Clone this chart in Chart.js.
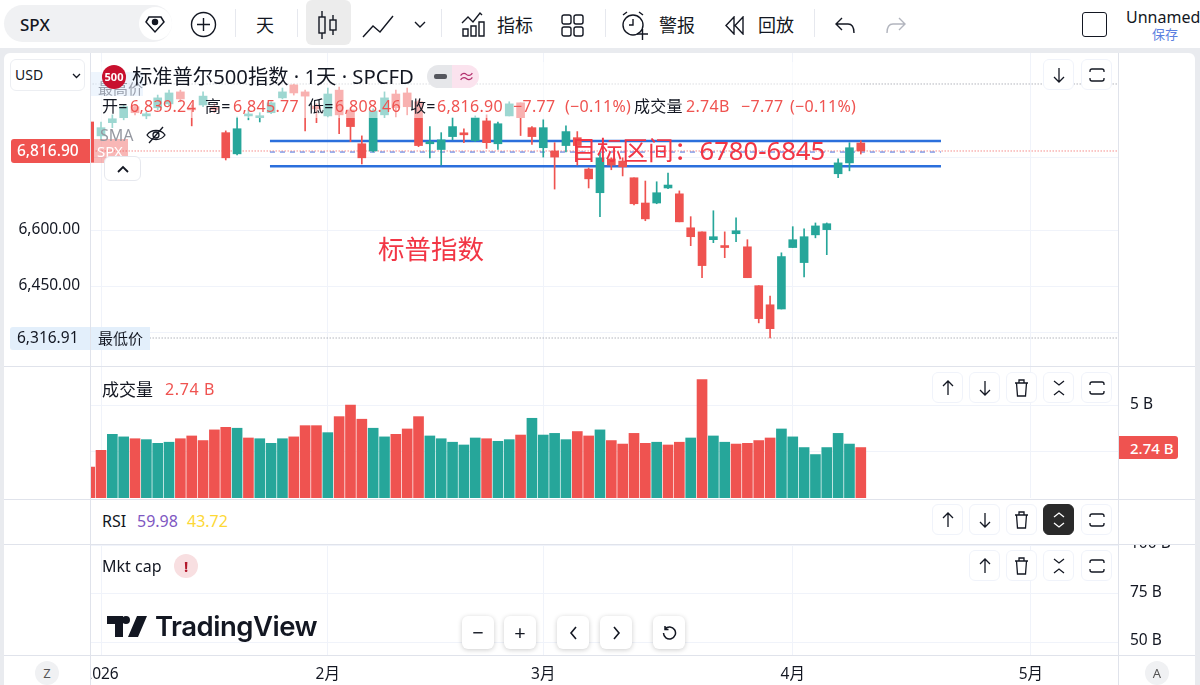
<!DOCTYPE html>
<html>
<head>
<meta charset="utf-8">
<title>SPX</title>
<script src="https://cdn.jsdelivr.net/npm/chart.js@4/dist/chart.umd.min.js"></script>
<style>
html, body { margin: 0; padding: 0; }
body { width: 1200px; height: 685px; position: relative; overflow: hidden; background: #e9ebef;
  font-family: "Noto Sans", "Noto Sans CJK SC", sans-serif; color: #131722; }
canvas { position: absolute; }
.box { position: absolute; }
.t { position: absolute; white-space: nowrap; line-height: 1; transform: translateY(-50%); }
.o { font-size: 16px; top: 106px; letter-spacing: .3px; }
.red { color: #ef5350; }
.sep { position: absolute; background: #e0e3eb; }
.tbsep { position: absolute; width: 1px; top: 9px; height: 28px; background: #e6e8ee; }
.btn { position: absolute; width: 31px; height: 31px; box-sizing: border-box; border: 1px solid #f0f3fa; border-radius: 6px;
  background: #fff; display: flex; align-items: center; justify-content: center; font-size: 18px; }
.nav { position: absolute; top: 616px; width: 32px; height: 33px; border-radius: 6px; background: #fff;
  box-shadow: 0 1px 5px rgba(0,0,0,.2); display: flex; align-items: center; justify-content: center; font-size: 20px; }
svg { display: block; }
</style>
</head>
<body>
<!-- page frame -->
<div class="box" style="left:0;top:0;width:1200px;height:48px;background:#fff"></div>
<div class="box" style="left:4px;top:53px;width:1191px;height:632px;background:#fff;border-radius:6px 6px 0 0"></div>

<canvas id="priceChart" width="1118" height="313" style="left:0;top:53px"></canvas>
<canvas id="volChart" width="1110" height="132" style="left:90px;top:366px"></canvas>
<canvas id="capChart" width="1110" height="140" style="left:90px;top:545px"></canvas>

<div class="sep" style="left:90px;top:53px;width:1px;height:632px"></div>
<div class="sep" style="left:1118px;top:53px;width:1px;height:632px"></div>
<div class="sep" style="left:4px;top:366px;width:1191px;height:1px"></div>
<div class="sep" style="left:4px;top:499px;width:1191px;height:45px;background:#fff"></div>
<div class="sep" style="left:4px;top:499px;width:1191px;height:1px"></div>
<div class="sep" style="left:4px;top:544px;width:1191px;height:1px"></div>
<div class="sep" style="left:4px;top:655px;width:1191px;height:1px"></div>
<div class="sep" style="left:90px;top:499px;width:1px;height:46px"></div>
<div class="sep" style="left:1118px;top:499px;width:1px;height:46px"></div>

<!-- toolbar -->
<div class="box" style="left:4px;top:5px;width:168px;height:37px;border-radius:19px;background:#f0f1f3"></div>
<div class="t" style="left:20px;top:24px;font-size:17px;font-weight:500">SPX</div>
<div class="box" style="left:139px;top:7px;width:33px;height:33px;border-radius:50%;background:#fff"></div>
<svg class="box" style="left:145px;top:14px" width="20" height="20" viewBox="0 0 20 20" fill="none" stroke="#131722" stroke-width="1.5"><path d="M4 3h12l3 5-9 10L1 8z"/><circle cx="10" cy="8" r="2.5" fill="#131722"/></svg>
<svg class="box" style="left:190px;top:11px" width="27" height="27" viewBox="0 0 27 27" fill="none" stroke="#131722" stroke-width="1.4"><circle cx="13.5" cy="13.5" r="12"/><path d="M13.5 7v13M7 13.5h13"/></svg>
<div class="tbsep" style="left:235px"></div>
<div class="t" style="left:256px;top:25px;font-size:18px">天</div>
<div class="tbsep" style="left:297px"></div>
<div class="box" style="left:306px;top:0;width:45px;height:45px;border-radius:6px;background:#ececec"></div>
<svg class="box" style="left:317px;top:10px" width="22" height="30" viewBox="0 0 22 30" fill="none" stroke="#131722" stroke-width="1.4"><path d="M5 1v6M5 23v6M16 5v5M16 20v5"/><rect x="2" y="7" width="6" height="16"/><rect x="13" y="10" width="6" height="10"/></svg>
<svg class="box" style="left:362px;top:14px" width="32" height="24" viewBox="0 0 32 24" fill="none" stroke="#131722" stroke-width="1.4"><path d="M1 23l10-11 7 6L31 2"/></svg>
<svg class="box" style="left:414px;top:21px" width="12" height="8" viewBox="0 0 12 8" fill="none" stroke="#131722" stroke-width="1.4"><path d="M1 1l5 5 5-5"/></svg>
<div class="tbsep" style="left:441px"></div>
<svg class="box" style="left:461px;top:11px" width="25" height="27" viewBox="0 0 25 27" fill="none" stroke="#131722" stroke-width="1.4"><path d="M1 12l6-6 5 5 7-9 2 2"/><path d="M2 25v-7h5v7zM10 25V15h5v10zM18 25V11h5v14z"/></svg>
<div class="t" style="left:497px;top:25px;font-size:18px">指标</div>
<svg class="box" style="left:561px;top:14px" width="23" height="23" viewBox="0 0 23 23" fill="none" stroke="#131722" stroke-width="1.4"><rect x="1" y="1" width="9" height="9" rx="2"/><rect x="13" y="1" width="9" height="9" rx="2"/><rect x="1" y="13" width="9" height="9" rx="2"/><rect x="13" y="13" width="9" height="9" rx="2"/></svg>
<div class="tbsep" style="left:605px"></div>
<svg class="box" style="left:620px;top:10px" width="30" height="30" viewBox="0 0 30 30" fill="none" stroke="#131722" stroke-width="1.4"><circle cx="13" cy="15" r="10"/><path d="M13 9v6h-4M3 5l4-3M23 5l-4-3M17 24h11M22.5 19v11"/></svg>
<div class="t" style="left:659px;top:25px;font-size:18px">警报</div>
<svg class="box" style="left:724px;top:16px" width="21" height="19" viewBox="0 0 21 19" fill="none" stroke="#131722" stroke-width="1.4"><path d="M10 1L2 9.5 10 18zM19 1l-8 8.500 8 8.500z"/></svg>
<div class="t" style="left:758px;top:25px;font-size:18px">回放</div>
<div class="tbsep" style="left:814px"></div>
<svg class="box" style="left:835px;top:17px" width="21" height="17" viewBox="0 0 21 17" fill="none" stroke="#131722" stroke-width="1.4"><path d="M7 1L1 7l6 6M1 7h12c4 0 6 3 6 9"/></svg>
<svg class="box" style="left:885px;top:17px" width="21" height="17" viewBox="0 0 21 17" fill="none" stroke="#b2b5be" stroke-width="1.4"><path d="M14 1l6 6-6 6M20 7H8c-4 0-6 3-6 9"/></svg>
<div class="box" style="left:1082px;top:12px;width:23px;height:23px;border:1.5px solid #131722;border-radius:3px"></div>
<div class="t" style="left:1126px;top:17px;font-size:16px">Unnamed</div>
<div class="t" style="left:1152px;top:34px;font-size:13px;color:#5b7fe0">保存</div>

<!-- faded strip behind the price pane legend -->
<div class="box" style="left:96px;top:62px;width:765px;height:56px;background:rgba(255,255,255,.55)"></div>
<div class="box" style="left:96px;top:118px;width:70px;height:30px;background:rgba(255,255,255,.55)"></div>

<!-- price axis tags -->
<div class="box" style="left:10px;top:59px;width:75px;height:32px;box-sizing:border-box;border:1px solid #eceef2;border-radius:6px;background:#fff"></div>
<div class="t" style="left:15px;top:75px;font-size:14px">USD</div>
<svg class="box" style="left:72px;top:73px" width="9" height="6" viewBox="0 0 9 6" fill="none" stroke="#131722" stroke-width="1.3"><path d="M1 1l3.500 3.500L8 1"/></svg>
<div class="box" style="left:91px;top:72px;width:52px;height:24px;background:rgba(227,239,251,.6)"></div>
<div class="t" style="left:98px;top:88px;font-size:15px;color:#9aa0ad">最高价</div>
<div class="box" style="left:11px;top:139px;width:79px;height:24px;background:#ef5350;border-radius:3px 0 0 3px"></div>
<div class="t" style="left:17px;top:151px;font-size:15.500px;color:#fff;font-weight:500">6,816.90</div>
<div class="box" style="left:91px;top:139px;width:37px;height:24px;background:rgba(239,83,80,.42)"></div>
<div class="t" style="left:97px;top:151px;font-size:15px;color:#fff">SPX</div>
<div class="btn" style="left:104px;top:156px;width:37px;height:25px;border-color:#e6e8ee"><svg width="12" height="8" viewBox="0 0 12 8" fill="none" stroke="#131722" stroke-width="1.800"><path d="M1 7l5-5 5 5"/></svg></div>
<div class="box" style="left:10px;top:327px;width:80px;height:23px;background:#e3effb;border-radius:3px 0 0 3px"></div>
<div class="t" style="left:17px;top:338px;font-size:15.500px">6,316.91</div>
<div class="box" style="left:91px;top:327px;width:59px;height:23px;background:#e3effb"></div>
<div class="t" style="left:98px;top:338px;font-size:15px">最低价</div>

<!-- price pane legend -->
<div class="box" style="left:102px;top:65px;width:24px;height:24px;border-radius:50%;background:#c8102e;color:#fff;font-size:11px;line-height:24px;text-align:center;font-weight:700">500</div>
<div class="t" style="left:132px;top:76px;font-size:20.300px">标准普尔500指数 · 1天 · SPCFD</div>
<div class="box" style="left:427px;top:65px;width:25px;height:23px;background:#e6e7ea;border-radius:12px 0 0 12px"></div>
<div class="box" style="left:452px;top:65px;width:27px;height:23px;background:#fbe3ee;border-radius:0 12px 12px 0"></div>
<div class="box" style="left:434px;top:74px;width:13px;height:5px;background:#55575e;border-radius:2px"></div>
<div class="t" style="left:458px;top:76px;font-size:17px;color:#b3306d">≈</div>
<div class="t o" style="left:102px">开=</div>
<div class="t o red" style="left:130px">6,839.24</div>
<div class="t o" style="left:205px">高=</div>
<div class="t o red" style="left:233px">6,845.77</div>
<div class="t o" style="left:308px">低=</div>
<div class="t o red" style="left:335px">6,808.46</div>
<div class="t o" style="left:410px">收=</div>
<div class="t o red" style="left:437px">6,816.90</div>
<div class="t o red" style="left:513px">−7.77</div>
<div class="t o red" style="left:565px">(−0.11%)</div>
<div class="t o" style="left:634px">成交量</div>
<div class="t o red" style="left:686px">2.74B</div>
<div class="t o red" style="left:741px">−7.77</div>
<div class="t o red" style="left:790px">(−0.11%)</div>
<div class="t" style="left:100px;top:135px;font-size:16px;color:#9598a1">SMA</div>
<svg class="box" style="left:146px;top:126px" width="20" height="18" viewBox="0 0 20 18" fill="none" stroke="#131722" stroke-width="1.300"><path d="M1 9c4-6 14-6 18 0-4 6-14 6-18 0z"/><circle cx="10" cy="9" r="3"/><path d="M3 17L17 1"/></svg>

<!-- drawn notes -->
<div class="t" style="left:571px;top:151px;font-size:25.700px;color:#f23645">目标区间：6780-6845</div>
<div class="t" style="left:378px;top:249px;font-size:26.500px;color:#f23645">标普指数</div>

<!-- lower panes -->
<div class="t" style="left:102px;top:389px;font-size:17px">成交量</div>
<div class="t red" style="left:165px;top:389px;font-size:16px;letter-spacing:.6px">2.74 B</div>
<div class="box" style="left:1119px;top:436px;width:59px;height:23px;background:#ef5350;border-radius:0 3px 3px 0"></div>
<div class="t" style="left:1130px;top:448px;font-size:15px;color:#fff;font-weight:500">2.74 B</div>
<div class="t" style="left:102px;top:521px;font-size:16px">RSI</div>
<div class="t" style="left:137px;top:521px;font-size:16px;color:#7e57c2">59.98</div>
<div class="t" style="left:187px;top:521px;font-size:16px;color:#fdd835">43.72</div>
<div class="t" style="left:102px;top:566px;font-size:16px">Mkt cap</div>
<div class="box" style="left:174px;top:554px;width:24px;height:24px;border-radius:50%;background:#f8dfe1;color:#b2182b;font-size:15px;font-weight:700;line-height:24px;text-align:center">!</div>

<!-- logo -->
<svg class="box" style="left:107px;top:616px" width="42" height="21" viewBox="0 0 42 21" fill="#131722"><path d="M0 0h16v21H8V8H0zM19 0a4 4 0 1 1 0 8 4 4 0 0 1 0-8zM30 0h10l-9 21H21z"/></svg>
<div class="t" style="left:155px;top:627px;font-size:27.500px;font-weight:600;font-family:Inter,sans-serif;letter-spacing:-.5px">TradingView</div>

<div class="nav" style="left:462px">−</div>
<div class="nav" style="left:504px">+</div>
<div class="nav" style="left:557px"><svg width="9" height="14" viewBox="0 0 9 14" fill="none" stroke="#131722" stroke-width="1.600"><path d="M7 1L2 7l5 6"/></svg></div>
<div class="nav" style="left:600px"><svg width="9" height="14" viewBox="0 0 9 14" fill="none" stroke="#131722" stroke-width="1.600"><path d="M2 1l5 6-5 6"/></svg></div>
<div class="nav" style="left:653px"><svg width="16" height="16" viewBox="0 0 16 16" fill="none" stroke="#131722" stroke-width="1.500"><path d="M4 4a6 6 0 1 1-1.500 4M4 1v3.500h3.500"/></svg></div>

<div class="box" style="left:35px;top:661px;width:24px;height:24px;border-radius:50%;background:#f0f1f3;color:#555;font-size:13px;line-height:24px;text-align:center">Z</div>
<div class="box" style="left:1145px;top:661px;width:24px;height:24px;border-radius:50%;background:#f0f1f3;color:#555;font-size:13px;line-height:24px;text-align:center">A</div>

<div id="buttons"></div>

<script>
// candles, day 0 is the one cut off by the axis
const opens = [6898,6859,6896,6910,6941,6915,6938,6949,6983,6938,6946,6941,6868,6809,6915,6910,6924,6966,7003,6983,6943,6915,6988,6932,6837,6817,6918,6977,6980,6955,6837,6821,6857,6865,6846,6901,6837,6915,6952,6882,6826,6817,6832,6854,6767,6702,6795,6789,6743,6674,6674,6715,6699,6607,6596,6575,6556,6591,6556,6453,6403,6392,6554,6514,6588,6602,6754,6784,6839.24];
const highs = [6898,6898,6918,6946,6946,6926,6974,6988,6988,6946,6983,6949,6873,6912,6932,6924,6955,6994,7005,6988,6949,6994,6997,6938,6859,6935,6983,6988,6994,6960,6885,6868,6910,6879,6915,6918,6898,6955,6952,6885,6904,6840,6887,6871,6770,6811,6798,6798,6743,6734,6732,6756,6707,6637,6596,6653,6596,6634,6575,6453,6426,6540,6610,6604,6620,6620,6795,6840,6845.77];
const lows = [6786,6846,6882,6904,6918,6907,6932,6943,6955,6887,6941,6924,6792,6806,6904,6898,6921,6963,6974,6873,6896,6912,6865,6843,6781,6814,6910,6912,6918,6829,6798,6778,6848,6840,6843,6824,6821,6915,6860,6835,6800,6712,6814,6778,6715,6637,6765,6748,6669,6626,6672,6713,6623,6559,6474,6567,6527,6570,6474,6356,6317,6392,6554,6476,6580,6535,6743,6762,6808.46];
const closes = [6786,6882,6907,6941,6924,6921,6966,6980,6963,6932,6971,6932,6798,6879,6918,6915,6952,6983,6980,6971,6935,6977,6918,6885,6798,6929,6966,6938,6941,6832,6840,6848,6885,6862,6910,6840,6893,6949,6910,6857,6882,6800,6871,6832,6740,6798,6778,6773,6672,6631,6702,6723,6623,6583,6506,6583,6554,6599,6474,6367,6341,6530,6575,6583,6612,6618,6784,6826,6816.90];

// volume in billions, volUp = teal bar
const volumes = [1.68,2.59,3.46,3.32,3.22,3.17,2.97,3.03,3.22,3.37,3.12,3.70,3.84,3.79,3.26,3.22,2.97,3.22,3.32,3.93,3.93,3.55,4.42,5.05,4.28,3.79,3.32,3.46,3.75,4.42,3.37,3.22,3.03,2.88,3.26,3.22,3.08,3.17,3.42,4.33,3.42,3.51,3.17,3.61,3.37,3.70,3.12,2.93,3.51,2.97,3.03,2.88,3.03,3.26,6.43,3.37,3.03,2.93,2.97,3.12,3.26,3.75,3.32,2.74,2.36,2.74,3.51,2.93,2.74];
const volUp = [0,0,1,1,0,1,1,1,0,0,0,0,0,1,0,1,1,1,0,0,0,1,0,0,0,1,1,0,0,0,1,1,1,1,1,0,1,1,0,1,1,1,1,0,0,1,0,0,0,0,1,0,0,1,0,1,1,0,0,0,0,1,1,1,1,1,1,1,0];

// axis ticks
const monthTicks = [1,21,40,62,83];
const monthLabels = ["2026","2月","3月","4月","5月"];
const priceTicks = [6800,6600,6450,6330];
const priceTickLabels = {6600:"6,600.00",6450:"6,450.00"};
const volTicks = [2.5,5];
const capTicks = [100,75,50];

// levels on the chart
const boxTop = 6845;
const boxBottom = 6775;
const boxMiddle = 6814;
const boxFrom = 15.9;
const boxTo = 75.07;
const lastPrice = 6816.90;
const highestPrice = 7005.5;
const lowestPrice = 6316.91;

const RED = "#ef5350";
const TEAL = "#26a69a";
const GRID = "#f0f3fa";
const FONT = { family: '"Noto Sans","Noto Sans CJK SC",sans-serif', size: 15.5 };

Chart.defaults.animation = false;
Chart.defaults.color = "#131722";

function xAxis(showLabels) {
    return {
        type: "linear",
        min: 0.03,
        max: 90.68,
        offset: false,
        border: { display: false },
        grid: { color: GRID, drawTicks: false, offset: false },
        afterBuildTicks: (s) => { s.ticks = monthTicks.map((v) => ({ value: v })); },
        ticks: {
            display: showLabels,
            autoSkip: false,
            maxRotation: 0,
            minRotation: 0,
            padding: 9,
            font: FONT,
            callback: (v) => monthLabels[monthTicks.indexOf(v)],
        },
        afterFit: (s) => {
            s.paddingLeft = 0;
            s.paddingRight = 0;
            s.height = showLabels ? 29 : 0;
        },
    };
}

function yAxis(position, width, values, label, padding, extra) {
    return Object.assign({
        position: position,
        border: { display: false },
        grid: { color: GRID, drawTicks: false },
        afterBuildTicks: (s) => { s.ticks = values.map((v) => ({ value: v })); },
        ticks: { autoSkip: false, padding: padding, font: FONT, callback: label, labelOffset: -1 },
        afterFit: (s) => {
            s.width = width;
            s.paddingTop = 0;
            s.paddingBottom = 0;
        },
    }, extra);
}

function level(y, from, to, color, width, dash) {
    return {
        type: "line",
        data: [{ x: from, y: y }, { x: to, y: y }],
        borderColor: color,
        borderWidth: width,
        borderDash: dash,
        pointRadius: 0,
        order: 3,
    };
}

const candleColors = opens.map((o, i) => (closes[i] >= o ? TEAL : RED));

new Chart(document.getElementById("priceChart"), {
    type: "bar",
    data: {
        datasets: [
            level(boxTop, boxFrom, boxTo, "#2b6fdc", 2.5, []),
            level(boxBottom, boxFrom, boxTo, "#2b6fdc", 2.5, []),
            level(boxMiddle, boxFrom, boxTo, "#4a6fdc", 1, [5, 5]),
            level(lastPrice, 0, 91, "#ef5350", 1, [1, 2]),
            level(highestPrice, 0, 91, "#8a8e99", 1, [1, 2]),
            level(lowestPrice, 0, 91, "#8a8e99", 1, [1, 2]),
            {
                data: lows.map((l, i) => ({ x: i, y: [l, highs[i]] })),
                backgroundColor: candleColors,
                barThickness: 1,
                grouped: false,
                order: 2,
            },
            {
                data: opens.map((o, i) => ({ x: i, y: [o, closes[i]] })),
                backgroundColor: candleColors,
                barThickness: 8,
                minBarLength: 2,
                grouped: false,
                order: 1,
            },
        ],
    },
    options: {
        responsive: false,
        plugins: { legend: { display: false }, tooltip: { enabled: false } },
        scales: {
            x: xAxis(false),
            y: yAxis("left", 90, priceTicks, (v) => priceTickLabels[v] || "", 10, { type: "logarithmic", min: 6245.3, max: 7094.5 }),
        },
    },
});

new Chart(document.getElementById("volChart"), {
    type: "bar",
    data: {
        datasets: [{
            data: volumes.map((v, i) => ({ x: i, y: v })),
            backgroundColor: volUp.map((u) => (u ? TEAL : RED)),
            barThickness: 10,
        }],
    },
    options: {
        responsive: false,
        plugins: { legend: { display: false }, tooltip: { enabled: false } },
        scales: {
            x: xAxis(false),
            y: yAxis("right", 82, volTicks, (v) => (v === 5 ? "5 B" : ""), 12, { min: 0, max: 7.17 }),
        },
    },
});

new Chart(document.getElementById("capChart"), {
    type: "bar",
    data: { datasets: [] },
    options: {
        responsive: false,
        plugins: { legend: { display: false }, tooltip: { enabled: false } },
        scales: {
            x: xAxis(true),
            y: yAxis("right", 82, capTicks, (v) => v + " B", 12, { min: 42.8, max: 100 }),
        },
    },
});

// pane buttons
const ICONS = {
    up: '<svg width="14" height="16" viewBox="0 0 14 16" fill="none" stroke="#131722" stroke-width="1.300"><path d="M7 15V1M2 6l5-5 5 5"/></svg>',
    down: '<svg width="14" height="16" viewBox="0 0 14 16" fill="none" stroke="#131722" stroke-width="1.300"><path d="M7 1v14M2 10l5 5 5-5"/></svg>',
    trash: '<svg width="15" height="18" viewBox="0 0 15 18" fill="none" stroke="#131722" stroke-width="1.300"><path d="M1 4h13M5 4V1h5v3M2.500 4l1 13h8l1-13"/></svg>',
    fold: '<svg width="14" height="18" viewBox="0 0 14 18" fill="none" stroke="#131722" stroke-width="1.300"><path d="M2 2l5 4 5-4M2 16l5-4 5 4"/></svg>',
    open: '<svg width="14" height="18" viewBox="0 0 14 18" fill="none" stroke="#fff" stroke-width="1.300"><path d="M2 6l5-4 5 4M2 12l5 4 5-4"/></svg>',
    full: '<svg width="16" height="14" viewBox="0 0 16 14" fill="none" stroke="#131722" stroke-width="1.300"><path d="M1 4V3a2 2 0 0 1 2-2h10a2 2 0 0 1 2 2v1M1 10v1a2 2 0 0 0 2 2h10a2 2 0 0 0 2-2v-1"/></svg>',
};
const paneButtons = [
    [1043, 59, "down"], [1081, 59, "full"],
    [932, 372, "up"], [969, 372, "down"], [1006, 372, "trash"], [1043, 372, "fold"], [1081, 372, "full"],
    [932, 504, "up"], [969, 504, "down"], [1006, 504, "trash"], [1043, 504, "open"], [1081, 504, "full"],
    [969, 550, "up"], [1006, 550, "trash"], [1043, 550, "fold"], [1081, 550, "full"],
];
document.getElementById("buttons").innerHTML = paneButtons.map((b) => {
    const dark = b[2] === "open" ? "background:#2a2a2a;border-color:#2a2a2a;" : "";
    return '<div class="btn" style="left:' + b[0] + "px;top:" + b[1] + "px;" + dark + '">' + ICONS[b[2]] + "</div>";
}).join("");
</script>
</body>
</html>
